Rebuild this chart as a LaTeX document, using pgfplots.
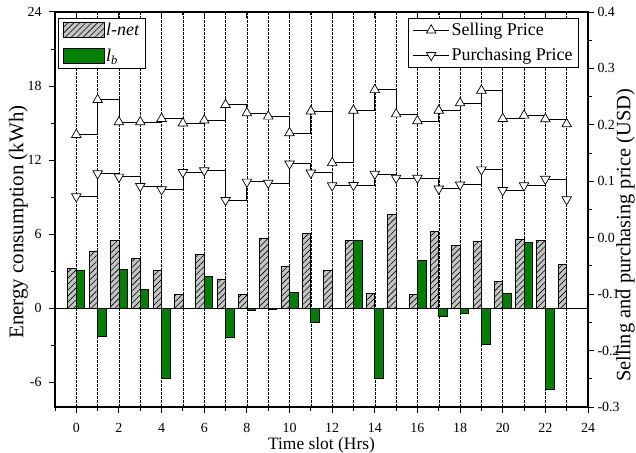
\documentclass[border=0pt]{standalone}
\usepackage{pgfplots}
\pgfplotsset{compat=1.18}
\usepackage{fontspec}
\setmainfont{Liberation Serif}
\usetikzlibrary{patterns,patterns.meta}

\definecolor{barGray}{RGB}{196,196,196}
\definecolor{barGreen}{RGB}{0,128,0}

\pgfplotsset{
  common/.style={
    scale only axis, width=533bp, height=395bp,
    xmin=-1, xmax=24,
    /pgf/number format/assume math mode=true,
    tick label style={font=\fontsize{14}{14}\selectfont},
    axis line style={line width=1.2bp},
    tick style={line width=1bp, black},
    major tick length=6bp, minor tick length=3.5bp,
  },
  barlegend/.style={legend image code/.code={\draw[##1] (0bp,-7.5bp) rectangle (41bp,8bp);}},
  linelegend/.style={legend image code/.code={%
      \draw[##1, sharp plot] (0bp,0bp) -- (36bp,0bp);
      \draw[##1, only marks] plot coordinates {(18bp,0bp)};}},
}

\begin{document}
\begin{tikzpicture}
% energy bars
\begin{axis}[common, name=main,
  ymin=-8, ymax=24,
  ytick={-6,0,6,12,18,24}, minor y tick num=1,
  xtick={0,2,...,24}, minor xtick={-1,1,...,23},
  xtick pos=bottom, ytick pos=left, tick align=outside,
  yticklabel style={xshift=-4bp},
  xticklabel style={yshift=-7bp},
  xmajorgrids, xminorgrids,
  major grid style={black, line width=0.5bp, dash pattern=on 2.5bp off 1.5bp},
  minor grid style={black, line width=0.5bp, dash pattern=on 2.5bp off 1.5bp},
  xlabel={Time slot (Hrs)},
  ylabel={Energy consumption (kWh)},
  xlabel style={at={([yshift=-30bp]axis description cs:0.5,0)}, anchor=north, inner sep=0pt, font=\fontsize{17.5}{17.5}\selectfont},
  ylabel style={at={([xshift=-27bp]axis description cs:0,0.468)}, anchor=south, inner sep=0pt, font=\fontsize{21}{21}\selectfont},
  legend style={at={(0.006,0.985)}, anchor=north west, draw=black, line width=0.7bp,
    font=\fontsize{18}{18}\selectfont, inner xsep=4bp, inner ysep=3bp, row sep=8bp, cells={anchor=west}},
]
\addplot[ybar, bar width=0.4, bar shift=-0.2, fill=barGray, draw=black, line width=0.7bp,
  postaction={pattern={Lines[angle=45,distance=4.2bp,line width=0.6bp]}}, barlegend]
coordinates {
(0,3.2) (1,4.65) (2,5.5) (3,4.03) (4,3.06) (5,1.09) (6,4.33) (7,2.38)
(8,1.09) (9,5.68) (10,3.38) (11,6.03) (12,3.06) (13,5.49) (14,1.17) (15,7.6)
(16,1.11) (17,6.2) (18,5.06) (19,5.41) (20,2.16) (21,5.57) (22,5.49) (23,3.52)
};
\addlegendentry{\textit{l-net}}
\addplot[ybar, bar width=0.4, bar shift=0.2, fill=barGreen, draw=black, line width=0.7bp, barlegend]
coordinates {
(0,3.06) (1,-2.24) (2,3.14) (3,1.52) (4,-5.68) (6,2.6) (7,-2.38)
(8,-0.15) (9,-0.05) (10,1.27) (11,-1.13) (13,5.49) (14,-5.68)
(16,3.89) (17,-0.62) (18,-0.4) (19,-2.94) (20,1.17) (21,5.35) (22,-6.6)
};
\addlegendentry{\textit{l}\textsubscript{\textit{b}}}
% zero line
\addplot[black, line width=1.3bp, forget plot] coordinates {(-1,0) (24,0)};
\end{axis}

% prices on the right axis
\begin{axis}[common,
  ymin=-0.3, ymax=0.4,
  axis y line*=right, axis x line=none,
  ytick={-0.3,-0.2,-0.1,0,0.1,0.2,0.3,0.4}, minor y tick num=1,
  tick align=outside,
  yticklabel style={/pgf/number format/.cd, fixed, fixed zerofill, precision=1},
  ylabel={Selling and purchasing price (USD)},
  ylabel style={at={([xshift=28bp]axis description cs:1,0.435)}, anchor=north, inner sep=0pt, font=\fontsize{20.5}{20.5}\selectfont},
  legend style={at={(0.983,0.985)}, anchor=north east, draw=black, line width=0.7bp,
    font=\fontsize{18}{18}\selectfont, inner xsep=4bp, inner ysep=3bp, row sep=7bp, cells={anchor=west}},
]
\addplot[const plot, black, line width=0.8bp, mark=triangle*, mark size=5.5bp,
  mark options={fill=white, draw=black, line width=0.7bp}, linelegend]
coordinates {
(0,0.1826) (1,0.2445) (2,0.205) (3,0.205) (4,0.211) (5,0.203) (6,0.208) (7,0.2356)
(8,0.221) (9,0.215) (10,0.1856) (11,0.224) (12,0.1326) (13,0.2256) (14,0.262) (15,0.219)
(16,0.207) (17,0.2256) (18,0.2386) (19,0.261) (20,0.211) (21,0.2168) (22,0.2103) (23,0.2015)
};
\addlegendentry{Selling Price}
\addplot[const plot, black, line width=0.8bp, mark=triangle*, mark size=5.5bp,
  mark options={fill=white, draw=black, line width=0.7bp, rotate=180}, linelegend]
coordinates {
(0,0.073) (1,0.1137) (2,0.1078) (3,0.0913) (4,0.0854) (5,0.116) (6,0.119) (7,0.0665)
(8,0.099) (9,0.097) (10,0.131) (11,0.115) (12,0.0925) (13,0.093) (14,0.113) (15,0.106)
(16,0.106) (17,0.0866) (18,0.094) (19,0.1207) (20,0.084) (21,0.0925) (22,0.104) (23,0.0677)
};
\addlegendentry{Purchasing Price}
\end{axis}

% inward ticks along the top edge
\begin{axis}[common,
  ymin=0, ymax=1,
  axis x line*=top, axis y line=none,
  xtick={0,2,...,24}, minor xtick={-1,1,...,23}, xticklabels={},
  tick align=inside,
]
\addplot[draw=none, forget plot] coordinates {(0,0.5)};
\end{axis}

\pgfresetboundingbox
\path[use as bounding box] ([shift={(-55bp,-46bp)}]main.south west) rectangle ([shift={(48bp,12bp)}]main.north east);
\end{tikzpicture}
\end{document}
